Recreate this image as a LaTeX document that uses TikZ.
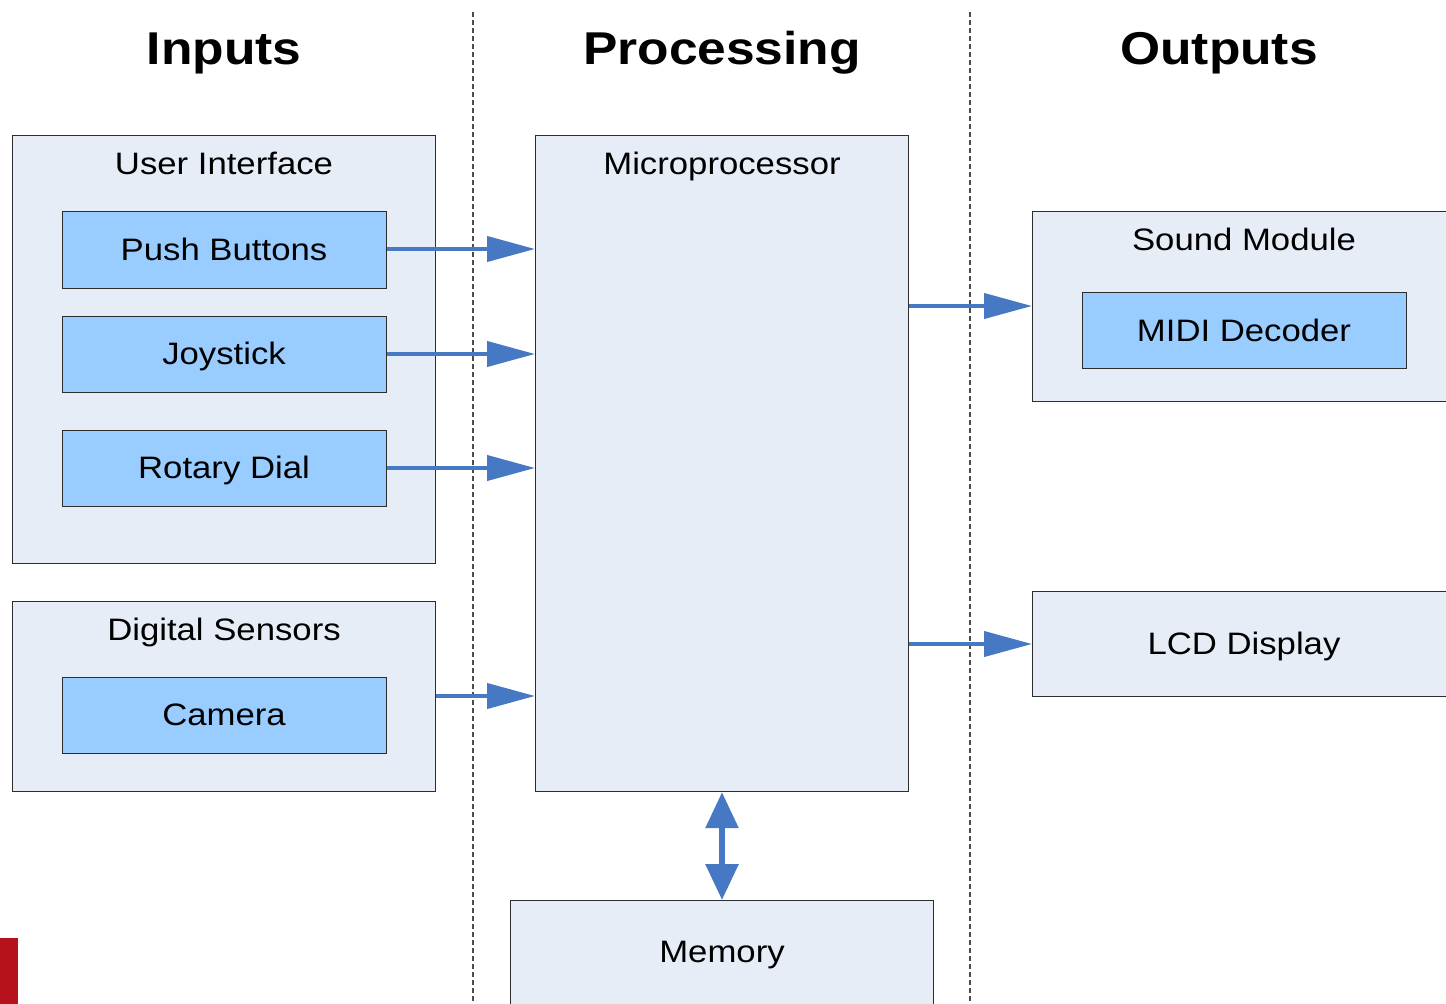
\documentclass[tikz,border=0pt]{standalone}
\usepackage{fontspec}
\setmainfont{Liberation Sans}[FakeStretch=1.12]
\usetikzlibrary{arrows.meta}
\definecolor{boxfill}{RGB}{231,237,247}
\definecolor{innerfill}{RGB}{153,204,255}
\definecolor{arrowblue}{RGB}{70,120,195}
\definecolor{edgegray}{RGB}{45,45,45}
\definecolor{redmark}{RGB}{181,18,27}
\tikzset{
  container/.style={draw=edgegray, fill=boxfill, line width=1.2pt, inner sep=0pt, anchor=north west},
  innerbox/.style={draw=edgegray, fill=innerfill, line width=1.2pt, inner sep=0pt, anchor=north west},
  bodytext/.style={font=\fontsize{31}{31}\selectfont, inner sep=0pt, anchor=base, yshift=-11pt},
  titletext/.style={font=\fontsize{46}{46}\selectfont\bfseries, inner sep=0pt, anchor=base, yshift=-16.5pt},
  flow/.style={draw=arrowblue, line width=4pt, -{Triangle[length=48pt,width=25pt]}},
  dualflow/.style={draw=arrowblue, line width=6pt, {Triangle[length=36pt,width=32pt]}-{Triangle[length=36pt,width=32pt]}},
  divider/.style={draw=black!70, line width=1.2pt, dash pattern=on 5pt off 3pt}
}
\begin{document}
\begin{tikzpicture}[x=1pt,y=-1pt]
\clip (0,0) rectangle (1446,1004);
\fill[white] (0,0) rectangle (1446,1004);

% dividers
\coordinate (d1t) at (473,12);
\coordinate (d1b) at (473,1004);
\coordinate (d2t) at (970,12);
\coordinate (d2b) at (970,1004);
\draw[divider] (d1t) -- (d1b);
\draw[divider] (d2t) -- (d2b);

% titles
\node[titletext] (tin) at (224,48) {Inputs};
\node[titletext] (tproc) at (722,48) {Processing};
\node[titletext] (tout) at (1219,48) {Outputs};

% inputs
\node[container, minimum width=423pt, minimum height=428pt] (ui) at (12,135) {};
\node[bodytext] (uilab) at (224,163) {User Interface};
\node[innerbox, minimum width=324pt, minimum height=77pt] (push) at (62,211) {};
\node[bodytext] (pushlab) at (224,249) {Push Buttons};
\node[innerbox, minimum width=324pt, minimum height=76pt] (joy) at (62,316) {};
\node[bodytext] (joylab) at (224,353) {Joystick};
\node[innerbox, minimum width=324pt, minimum height=76pt] (rot) at (62,430) {};
\node[bodytext] (rotlab) at (224,467) {Rotary Dial};

\node[container, minimum width=423pt, minimum height=190pt] (ds) at (12,601) {};
\node[bodytext] (dslab) at (224,629) {Digital Sensors};
\node[innerbox, minimum width=324pt, minimum height=76pt] (cam) at (62,677) {};
\node[bodytext] (camlab) at (224,714) {Camera};

% processing
\node[container, minimum width=373pt, minimum height=656pt] (mp) at (535,135) {};
\node[bodytext] (mplab) at (722,163) {Microprocessor};
\node[container, minimum width=423pt, minimum height=140pt] (mem) at (510,900) {};
\node[bodytext] (memlab) at (722,951) {Memory};

% outputs
\node[container, minimum width=440pt, minimum height=190pt] (snd) at (1032,211) {};
\node[bodytext] (sndlab) at (1244,239) {Sound Module};
\node[innerbox, minimum width=324pt, minimum height=76pt] (midi) at (1082,292) {};
\node[bodytext] (midilab) at (1244,330) {MIDI Decoder};
\node[container, minimum width=440pt, minimum height=105pt] (lcd) at (1032,591) {};
\node[bodytext] (lcdlab) at (1244,643) {LCD Display};

% red marker
\fill[redmark] (0,938) rectangle (18,1004);

% connectors
\draw[flow] (push.east |- 0,249) -- (mp.west |- 0,249);
\draw[flow] (joy.east |- 0,354) -- (mp.west |- 0,354);
\draw[flow] (rot.east |- 0,468) -- (mp.west |- 0,468);
\draw[flow] (ds.east |- 0,696) -- (mp.west |- 0,696);
\draw[flow] (mp.east |- 0,306) -- (snd.west |- 0,306);
\draw[flow] (mp.east |- 0,644) -- (lcd.west |- 0,644);
\draw[dualflow] (mp.south -| 722,0) -- (mem.north -| 722,0);
\end{tikzpicture}
\end{document}
